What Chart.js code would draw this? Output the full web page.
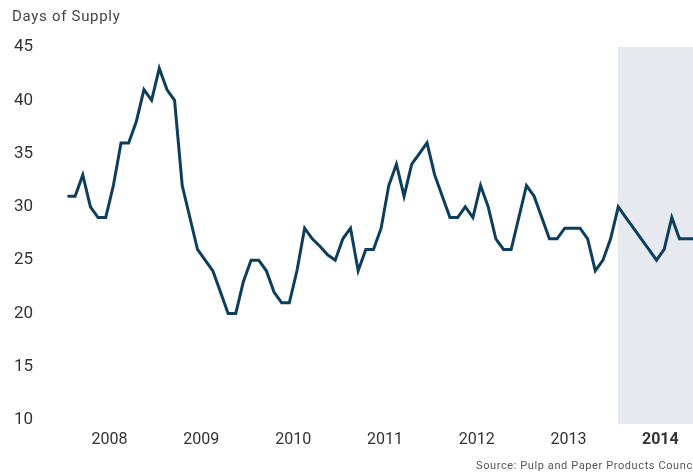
<!DOCTYPE html>
<html>
<head>
<meta charset="utf-8">
<script src="https://cdn.jsdelivr.net/npm/chart.js@4.4.1/dist/chart.umd.min.js"></script>
<style>
  html, body { margin: 0; padding: 0; background: #fff; }
  #wrap { width: 693px; height: 472px; position: relative; }
</style>
</head>
<body>
<div id="wrap"><canvas id="myChart"></canvas></div>
<script>
// ==== data, read month by month (Jan 2008 .. Nov 2014) ====
const years = ['2008', '2009', '2010', '2011', '2012', '2013', '2014'];
const v2008 = [31, 31, 33, 30, 29, 29, 32, 36, 36, 38, 41, 40];
const v2009 = [43, 41, 40, 32, 29, 26, 25, 24, 22, 20, 20, 23];
const v2010 = [25, 25, 24, 22, 21, 21, 24, 28, 27, 26.3, 25.5, 25];
const v2011 = [27, 28, 24, 26, 26, 28, 32, 34, 31, 34, 35, 36];
const v2012 = [33, 31, 29, 29, 30, 29, 32, 30, 27, 26, 26, 29];
const v2013 = [32, 31, 29, 27, 27, 28, 28, 28, 27, 24, 25, 27];
const v2014 = [30, 29, 28, 27, 26, 25, 26, 29, 27, 27, 27];
const yTicks = [10, 15, 20, 25, 30, 35, 40, 45];
const titleText = 'Days of Supply';
const sourceText = 'Source: Pulp and Paper Products Council';
const shadeFrom = 72; // Jan 2014 month index

const allValues = [].concat(v2008, v2009, v2010, v2011, v2012, v2013, v2014);
const points = allValues.map((v, i) => ({ x: i, y: v }));

const lineColor = '#0d3f5d';
const textColor = '#333';
const fontFam = "Roboto, 'Noto Sans', sans-serif";

// ==== shaded 2014 box + title/source texts ====
const extras = {
    id: 'extras',
    beforeDatasetsDraw(chart) {
        const { ctx, chartArea, scales } = chart;
        const x0 = scales.x.getPixelForValue(shadeFrom - 0.05);
        ctx.save();
        ctx.fillStyle = '#e6e9ee';
        ctx.fillRect(x0, chartArea.top, chartArea.right - x0, chartArea.bottom - chartArea.top + 4);
        ctx.restore();
    },
    afterDraw(chart) {
        const { ctx } = chart;
        ctx.save();
        ctx.textBaseline = 'middle';
        ctx.textAlign = 'left';
        ctx.fillStyle = '#444';
        ctx.font = '15px ' + fontFam;
        ctx.letterSpacing = '0.7px';
        ctx.fillText(titleText, 12, 17);
        ctx.fillStyle = '#555';
        ctx.font = '11px ' + fontFam;
        ctx.letterSpacing = '0.6px';
        ctx.fillText(sourceText, 476, 466);
        ctx.restore();
    }
};

const config = {
    type: 'line',
    data: {
        datasets: [{
            label: titleText,
            data: points,
            borderColor: lineColor,
            backgroundColor: lineColor,
            borderWidth: 3,
            pointRadius: 0,
            tension: 0,
            borderJoinStyle: 'miter',
            clip: false
        }]
    },
    options: {
        responsive: true,
        maintainAspectRatio: false,
        animation: false,
        layout: { padding: { top: 47, left: 14, right: 0, bottom: 20 } },
        plugins: {
            legend: { display: false },
            tooltip: { enabled: false }
        },
        scales: {
            x: {
                type: 'linear',
                min: -1.63,
                max: 81.77,
                grid: { display: false, drawTicks: false },
                border: { display: false },
                afterBuildTicks: (scale) => {
                    scale.ticks = years.map((y, i) => ({ value: 5.5 + 12 * i }));
                },
                afterFit: (scale) => { scale.height = 32; },
                ticks: {
                    autoSkip: false,
                    maxRotation: 0,
                    padding: 10,
                    color: textColor,
                    font: (c) => ({
                        family: fontFam,
                        size: 16,
                        weight: c.index === years.length - 1 ? 'bold' : 'normal'
                    }),
                    callback: (val, i) => years[i]
                }
            },
            y: {
                min: 10,
                max: 45,
                grid: { display: false, drawTicks: false },
                border: { display: false },
                afterBuildTicks: (scale) => {
                    scale.ticks = yTicks.map(v => ({ value: v }));
                },
                afterFit: (scale) => { scale.width = 41; },
                ticks: {
                    crossAlign: 'far',
                    padding: 0,
                    color: textColor,
                    font: { family: fontFam, size: 17 }
                }
            }
        }
    },
    plugins: [extras]
};

let myChart = new Chart(document.getElementById('myChart'), config);
</script>
</body>
</html>
